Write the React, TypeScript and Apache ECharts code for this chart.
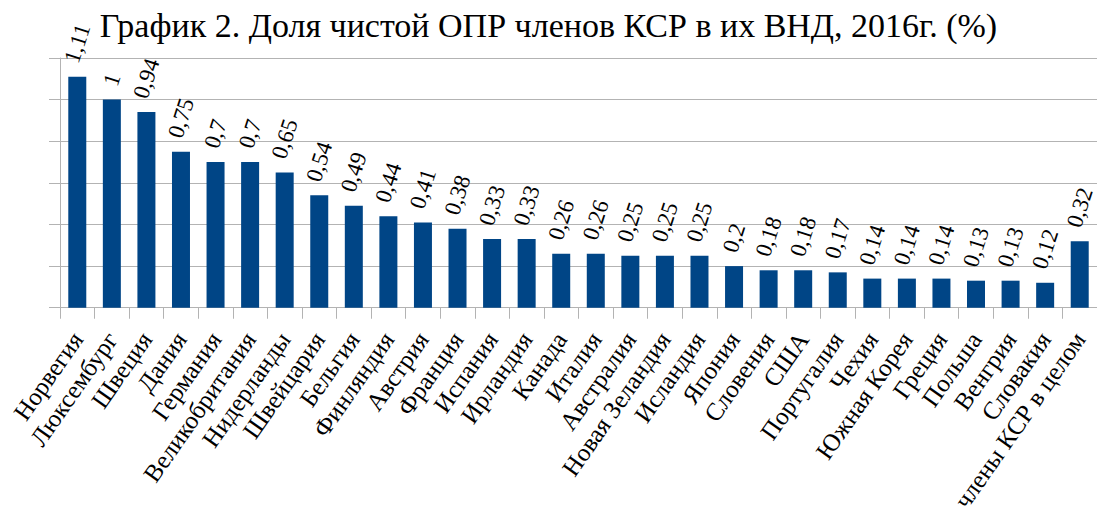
import React, { useEffect, useRef } from "react";
import * as echarts from "echarts";

const titleText = "График 2. Доля чистой ОПР членов КСР в их ВНД, 2016г. (%)";

const categories = [
  "Норвегия", "Люксембург", "Швеция", "Дания", "Германия", "Великобритания",
  "Нидерланды", "Швейцария", "Бельгия", "Финляндия", "Австрия", "Франция",
  "Испания", "Ирландия", "Канада", "Италия", "Австралия", "Новая Зеландия",
  "Исландия", "Япония", "Словения", "США", "Португалия", "Чехия",
  "Южная Корея", "Греция", "Польша", "Венгрия", "Словакия", "члены КСР в целом",
];

const values = [
  1.11, 1, 0.94, 0.75, 0.7, 0.7, 0.65, 0.54, 0.49, 0.44, 0.41, 0.38,
  0.33, 0.33, 0.26, 0.26, 0.25, 0.25, 0.25, 0.2, 0.18, 0.18, 0.17, 0.14,
  0.14, 0.14, 0.13, 0.13, 0.12, 0.32,
];

const yMin = 0;
const yMax = 1.2;
const yInterval = 0.2;

const FONT = "Liberation Serif";
const VALUE_FONT_SIZE = 23;
const VALUE_ROTATE = 72;

const fmt = (v: number) => String(v).replace(".", ",");

export default function App() {
  const ref = useRef<HTMLDivElement>(null);
  useEffect(() => {
    if (!ref.current) return;
    const canvas = document.createElement("canvas");
    const ctx = canvas.getContext("2d");
    if (ctx) ctx.font = `${VALUE_FONT_SIZE}px "${FONT}"`;
    const rad = (VALUE_ROTATE * Math.PI) / 180;
    const inkH = VALUE_FONT_SIZE * 0.7;
    const gap = 12;
    const seriesData = values.map((v) => {
      const w = ctx ? ctx.measureText(fmt(v)).width : fmt(v).length * 10;
      const boxH = w * Math.sin(rad) + inkH * Math.cos(rad);
      return { value: v, label: { distance: gap + boxH / 2 } };
    });

    const chart = echarts.init(ref.current, undefined, { renderer: "svg" });
    chart.setOption({
      animation: false,
      backgroundColor: "#ffffff",
      title: {
        text: titleText,
        left: "center",
        top: 3,
        textStyle: { fontFamily: FONT, fontSize: 34, fontWeight: "normal", color: "#000" },
      },
      grid: { left: 60, right: 0, top: 58, bottom: 203 },
      xAxis: {
        type: "category",
        data: categories,
        axisLine: { show: true, lineStyle: { color: "#b3b3b3", width: 1 } },
        axisTick: { show: true, interval: 0, length: 11, lineStyle: { color: "#b3b3b3" } },
        axisLabel: {
          interval: 0,
          rotate: 55,
          margin: 27,
          fontFamily: FONT,
          fontSize: 25,
          color: "#000",
        },
      },
      yAxis: {
        type: "value",
        min: yMin,
        max: yMax,
        interval: yInterval,
        axisLine: { show: true, lineStyle: { color: "#b3b3b3", width: 1 } },
        axisTick: { show: true, length: 11, lineStyle: { color: "#b3b3b3" } },
        axisLabel: { show: false },
        splitLine: { show: true, lineStyle: { color: "#b3b3b3", width: 1 } },
      },
      series: [
        {
          type: "bar",
          data: seriesData,
          barWidth: 18,
          itemStyle: { color: "#004586" },
          label: {
            show: true,
            position: "top",
            rotate: VALUE_ROTATE,
            align: "center",
            verticalAlign: "middle",
            fontFamily: FONT,
            fontSize: VALUE_FONT_SIZE,
            color: "#000",
            formatter: (p: any) => fmt(p.value),
          },
        },
      ],
    });
    return () => chart.dispose();
  }, []);
  return (
    <div
      ref={ref}
      style={{ position: "fixed", left: 0, top: 0, width: 1097, height: 515 }}
    />
  );
}
